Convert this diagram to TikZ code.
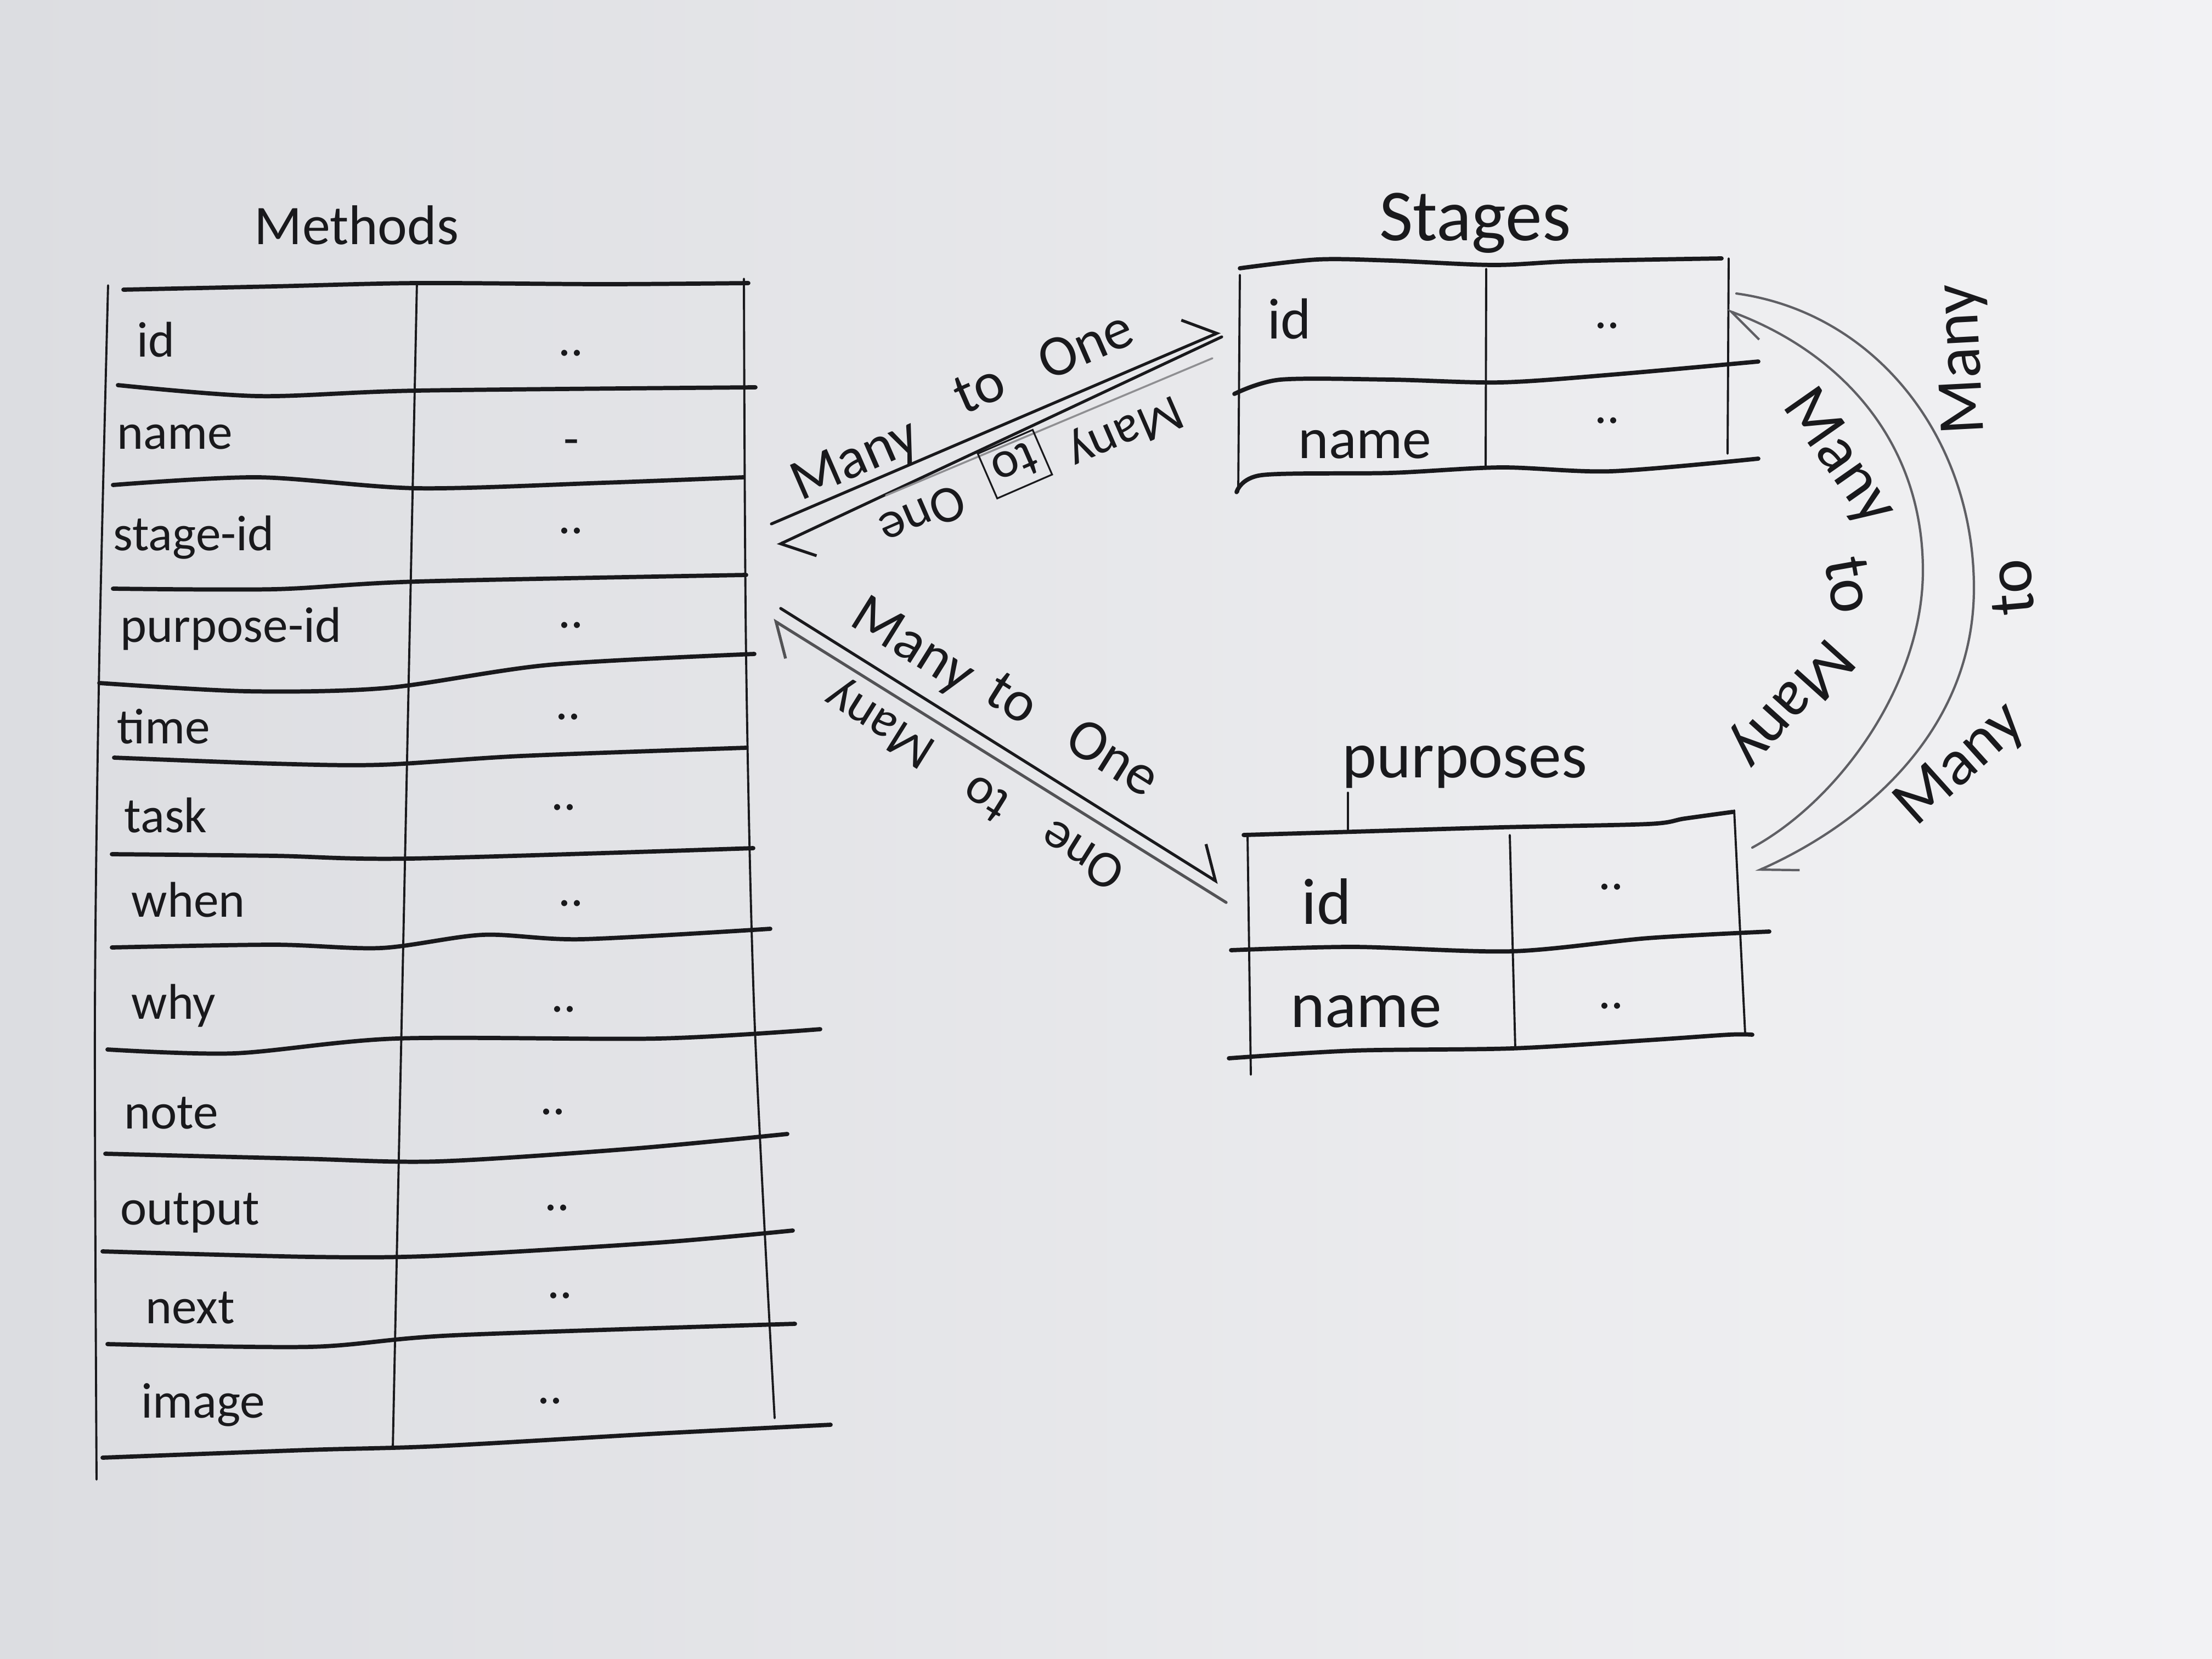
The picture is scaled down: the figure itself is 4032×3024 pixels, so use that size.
\documentclass[tikz,border=0pt]{standalone}
\usepackage{fontspec}
\setmainfont{Carlito}
\usetikzlibrary{arrows.meta}
\definecolor{paperdark}{RGB}{220,221,225}
\definecolor{paperlight}{RGB}{242,242,244}
\definecolor{ink}{RGB}{25,25,28}
\definecolor{pencil}{RGB}{95,95,100}
\begin{document}
\begin{tikzpicture}[x=0.01cm,y=-0.01cm,
  hline/.style={draw=ink, line width=2.2pt, line cap=round, line join=round},
  vline/.style={draw=ink, line width=1.1pt, line cap=round},
  conn/.style={draw=ink, line width=1.5pt, line cap=round},
  faint/.style={draw=pencil!70, line width=1pt, line cap=round},
  arcline/.style={draw=pencil, line width=1.2pt, line cap=round},
  barb/.style={-{Straight Barb[left,length=0.5cm,width=0.95cm]}},
  arcbarb/.style={-{Straight Barb[left,length=0.65cm,width=0.6cm]}},
  lbl/.style={font=\fontsize{26}{30}\selectfont, anchor=base west, inner sep=0pt, text=ink},
  slbl/.style={font=\fontsize{30}{34}\selectfont, anchor=base west, inner sep=0pt, text=ink},
  plbl/.style={font=\fontsize{34}{38}\selectfont, anchor=base west, inner sep=0pt, text=ink},
  val/.style={font=\fontsize{26}{30}\selectfont, anchor=base, inner sep=0pt, text=ink},
  ttl/.style={inner sep=0pt, text=ink},
  rel/.style={font=\fontsize{30}{34}\selectfont, inner sep=0pt, text=ink},
  relsmall/.style={font=\fontsize{27}{31}\selectfont, inner sep=0pt, text=ink},
  arcrel/.style={font=\fontsize{34}{38}\selectfont, inner sep=0pt, text=ink}
]
\useasboundingbox (0,0) rectangle (4032,3024);
\shade[left color=paperdark, right color=paperlight] (0,0) rectangle (4032,3024);

% ---------------- Methods table ----------------
\node[ttl, font=\fontsize{29}{33}\selectfont, anchor=base] (tMethods) at (650,445) {Methods};

\draw[vline] plot[smooth] coordinates {(197,520) (181,1200) (173,1850) (176,2697)};
\draw[vline] (760,514) -- (716,2640);
\draw[vline] plot[smooth] coordinates {(1356,508) (1360,1200) (1375,1850) (1412,2585)};

\draw[hline] plot[smooth] coordinates {(225,528) (500,522) (760,516) (1100,518) (1364,516)};
\draw[hline] plot[smooth] coordinates {(215,702) (470,722) (760,712) (1377,706)};
\draw[hline] plot[smooth] coordinates {(206,884) (470,870) (760,890) (1100,880) (1355,870)};
\draw[hline] plot[smooth] coordinates {(206,1073) (500,1074) (760,1060) (1360,1048)};
\draw[hline] plot[smooth] coordinates {(181,1245) (450,1260) (704,1254) (1000,1212) (1375,1192)};
\draw[hline] plot[smooth] coordinates {(208,1381) (500,1392) (695,1394) (950,1378) (1360,1363)};
\draw[hline] plot[smooth] coordinates {(204,1557) (500,1560) (748,1565) (1373,1546)};
\draw[hline] plot[smooth] coordinates {(204,1727) (500,1722) (695,1728) (880,1704) (1060,1712) (1404,1693)};
\draw[hline] plot[smooth] coordinates {(196,1913) (427,1920) (723,1893) (1200,1893) (1495,1876)};
\draw[hline] plot[smooth] coordinates {(192,2103) (550,2112) (797,2117) (1150,2094) (1435,2067)};
\draw[hline] plot[smooth] coordinates {(187,2281) (566,2291) (797,2289) (1200,2265) (1445,2243)};
\draw[hline] plot[smooth] coordinates {(196,2450) (566,2455) (826,2434) (1449,2413)};
\draw[hline] plot[smooth] coordinates {(187,2657) (560,2643) (797,2636) (1200,2613) (1514,2597)};

\node[lbl] (mId)      at (249,650)  {id};
\node[lbl] (mName)    at (213,818)  {name};
\node[lbl] (mStage)   at (206,1003) {stage-id};
\node[lbl] (mPurpose) at (219,1170) {purpose-id};
\node[lbl] (mTime)    at (213,1355) {time};
\node[lbl] (mTask)    at (226,1517) {task};
\node[lbl] (mWhen)    at (239,1671) {when};
\node[lbl] (mWhy)     at (239,1857) {why};
\node[lbl] (mNote)    at (226,2057) {note};
\node[lbl] (mOutput)  at (219,2232) {output};
\node[lbl] (mNext)    at (265,2412) {next};
\node[lbl] (mImage)   at (257,2584) {image};

\node[val] (vId)      at (1041,648)  {..};
\node[val] (vName)    at (1041,830)  {-};
\node[val] (vStage)   at (1041,972)  {..};
\node[val] (vPurpose) at (1041,1144) {..};
\node[val] (vTime)    at (1036,1311) {..};
\node[val] (vTask)    at (1028,1476) {..};
\node[val] (vWhen)    at (1041,1651) {..};
\node[val] (vWhy)     at (1028,1844) {..};
\node[val] (vNote)    at (1008,2031) {..};
\node[val] (vOutput)  at (1016,2206) {..};
\node[val] (vNext)    at (1021,2366) {..};
\node[val] (vImage)   at (1003,2558) {..};

% ---------------- Stages table ----------------
\node[ttl, font=\fontsize{38}{42}\selectfont, anchor=base] (tStages) at (2689,438) {Stages};
\draw[hline] plot[smooth] coordinates {(2260,489) (2401,473) (2535,475) (2722,483) (2870,476) (3138,471)};
\draw[hline] plot[smooth] coordinates {(2250,718) (2334,692) (2535,692) (2736,697) (2937,683) (3205,659)};
\draw[hline] plot[smooth] coordinates {(2254,897) (2300,866) (2535,862) (2736,852) (2937,859) (3205,836)};
\draw[vline] (2260,501) -- (2257,897);
\draw[vline] (2709,490) -- (2708,852);
\draw[vline] (3151,471) -- (3149,827);
\node[slbl] (sId)   at (2310,617) {id};
\node[slbl] (sName) at (2366,835) {name};
\node[val]  (svId)   at (2930,598) {..};
\node[val]  (svName) at (2930,771) {..};

% ---------------- Purposes table ----------------
\node[ttl, font=\fontsize{34}{38}\selectfont, anchor=base west] (tPurposes) at (2446,1417) {purposes};
\draw[vline] (2457,1445) -- (2457,1515);
\draw[hline] plot[smooth] coordinates {(2267,1522) (2468,1516) (2736,1508) (3004,1502) (3071,1492) (3158,1480)};
\draw[hline] plot[smooth] coordinates {(2244,1732) (2468,1726) (2756,1734) (3004,1710) (3225,1698)};
\draw[hline] plot[smooth] coordinates {(2240,1929) (2468,1915) (2756,1911) (3004,1896) (3151,1886) (3194,1886)};
\draw[vline] (2274,1522) -- (2280,1959);
\draw[vline] (2752,1522) -- (2762,1911);
\draw[vline] (3161,1477) -- (3181,1884);
\node[plbl] (pId)   at (2372,1684) {id};
\node[plbl] (pName) at (2352,1872) {name};
\node[val]  (pvId)   at (2937,1621) {..};
\node[val]  (pvName) at (2937,1838) {..};

% ---------------- Methods <-> Stages ----------------
\coordinate (msA) at (1406,955);
\coordinate (msB) at (2224,605);
\coordinate (msC) at (2227,614);
\coordinate (msD) at (1417,994);
\coordinate (msE) at (1615,903);
\coordinate (msF) at (2210,653);
\draw[conn, barb] (msA) -- (msB);
\draw[conn, barb] (msC) -- (msD);
\draw[faint] (msE) -- (msF);

\node[rel, rotate=23.5] (r1a) at (1560,842) {Many};
\node[rel, rotate=23.5] (r1b) at (1785,708) {to};
\node[rel, rotate=23.5] (r1c) at (1978,628) {One};
\node[relsmall, rotate=203.5] (r2a) at (2050,784) {Many};
\node[relsmall, rotate=203.5, draw=ink, line width=0.9pt, inner sep=4pt] (r2b) at (1850,846) {to};
\node[relsmall, rotate=203.5] (r2c) at (1682,940) {One};

% ---------------- Methods <-> Purposes ----------------
\coordinate (mpA) at (1423,1109);
\coordinate (mpB) at (2221,1609);
\coordinate (mpC) at (2235,1645);
\coordinate (mpD) at (1409,1130);
\draw[conn, barb] (mpA) -- (mpB);
\draw[conn, draw=ink!75, barb] (mpC) -- (mpD);

\node[rel, rotate=-32] (r3a) at (1662,1180) {Many};
\node[rel, rotate=-32] (r3b) at (1846,1272) {to};
\node[rel, rotate=-32] (r3c) at (2030,1380) {One};
\node[relsmall, rotate=148] (r4a) at (1606,1316) {Many};
\node[relsmall, rotate=148] (r4b) at (1796,1456) {to};
\node[relsmall, rotate=148] (r4c) at (1972,1560) {One};

% ---------------- Stages <-> Purposes ----------------
\coordinate (spA) at (3165,535);
\coordinate (spM) at (3598,1072);
\coordinate (spB) at (3200,1589);
\draw[arcline, arcbarb] (spA) .. controls (3420,570) and (3598,800) .. (spM)
      .. controls (3598,1330) and (3400,1500) .. (spB);

\coordinate (psA) at (3194,1545);
\coordinate (psM) at (3505,1040);
\coordinate (psB) at (3147,565);
\draw[arcline, arcbarb] (psA) .. controls (3350,1460) and (3505,1250) .. (psM)
      .. controls (3505,800) and (3350,640) .. (psB);

\node[arcrel, rotate=-55] (a1) at (3350,835)  {Many};
\node[arcrel, rotate=-80] (a2) at (3371,1066) {to};
\node[arcrel, rotate=228] (a3) at (3262,1280) {Many};
\node[arcrel, rotate=42]  (a4) at (3575,1395) {Many};
\node[arcrel, rotate=95]  (a5) at (3667,1071) {to};
\node[arcrel, rotate=93]  (a6) at (3580,655)  {Many};
\end{tikzpicture}
\end{document}
